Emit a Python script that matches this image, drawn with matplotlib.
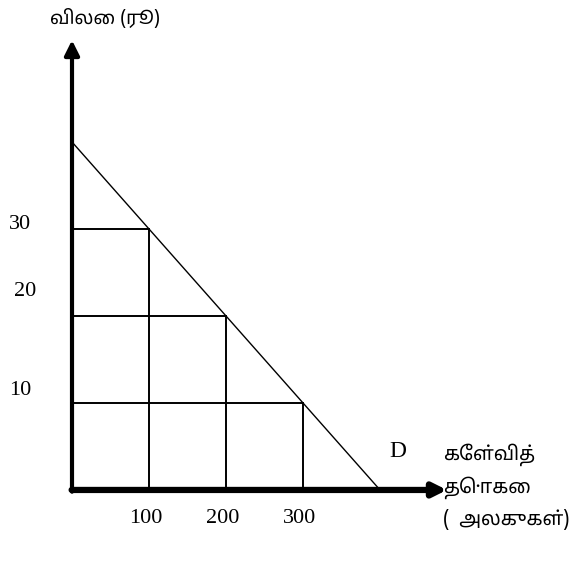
'''demand schedule diagram (Tamil labels)'''
import matplotlib
matplotlib.use('Agg')
import matplotlib.pyplot as plt

# data
quantities = [100, 200, 300]
prices = [30, 20, 10]
demand_q = [0, 400]
demand_p = [40, 0]

y_title = 'விலை (ரூ)'
x_title = 'கேள்வித்\nதொகை\n(  அலகுகள்)'
curve_label = 'D'

# the hand-drawn labels sit a little above their lines
price_label_offsets = [(-52, 4), (-47, 24), (-52, 12)]

tamil = ['Noto Sans Tamil', 'Lohit Tamil', 'FreeSans', 'DejaVu Sans']
serif = ['Liberation Serif', 'DejaVu Serif']

fig = plt.figure(figsize=(5.79, 5.72), dpi=100)
ax = fig.add_axes([0, 0, 1, 1])
ax.set_xlim(-93.5, 658.4)
ax.set_ylim(-9.43, 56.32)
ax.axis('off')

# grid of price/quantity lines
for q, p in zip(quantities, prices):
    ax.plot([0, q], [p, p], color='black', lw=1.4)
    ax.plot([q, q], [0, p], color='black', lw=1.4)

# demand curve
ax.plot(demand_q, demand_p, color='black', lw=1.0)

# axes with arrow heads
ax.annotate('', xy=(0, 51.7), xytext=(0, -0.2),
            arrowprops=dict(arrowstyle='-|>', color='black', lw=3,
                            mutation_scale=22, shrinkA=0, shrinkB=0))
ax.annotate('', xy=(487, 0), xytext=(-0.5, 0),
            arrowprops=dict(arrowstyle='-|>', color='black', lw=4.5,
                            mutation_scale=20, shrinkA=0, shrinkB=0))

# tick labels
for p, off in zip(prices, price_label_offsets):
    ax.annotate(str(p), xy=(0, p), xytext=off, textcoords='offset pixels',
                ha='center', va='center', fontsize=16, family=serif)
for q in quantities:
    ax.annotate(str(q), xy=(q, 0), xytext=(-3, -29), textcoords='offset pixels',
                ha='center', va='center', fontsize=16, family=serif)

ax.annotate(curve_label, xy=(demand_q[1], 0), xytext=(18, 38), textcoords='offset pixels',
            ha='center', va='center', fontsize=17, family=serif)

ax.annotate(y_title, xy=(0, 51.7), xytext=(33, 22), textcoords='offset pixels',
            ha='center', va='center', fontsize=13.5, family=tamil)
ax.annotate(x_title, xy=(487, 0), xytext=(-4, 47), textcoords='offset pixels',
            ha='left', va='top', fontsize=14, family=tamil, linespacing=1.65)

fig.savefig('out.png', dpi=100)
